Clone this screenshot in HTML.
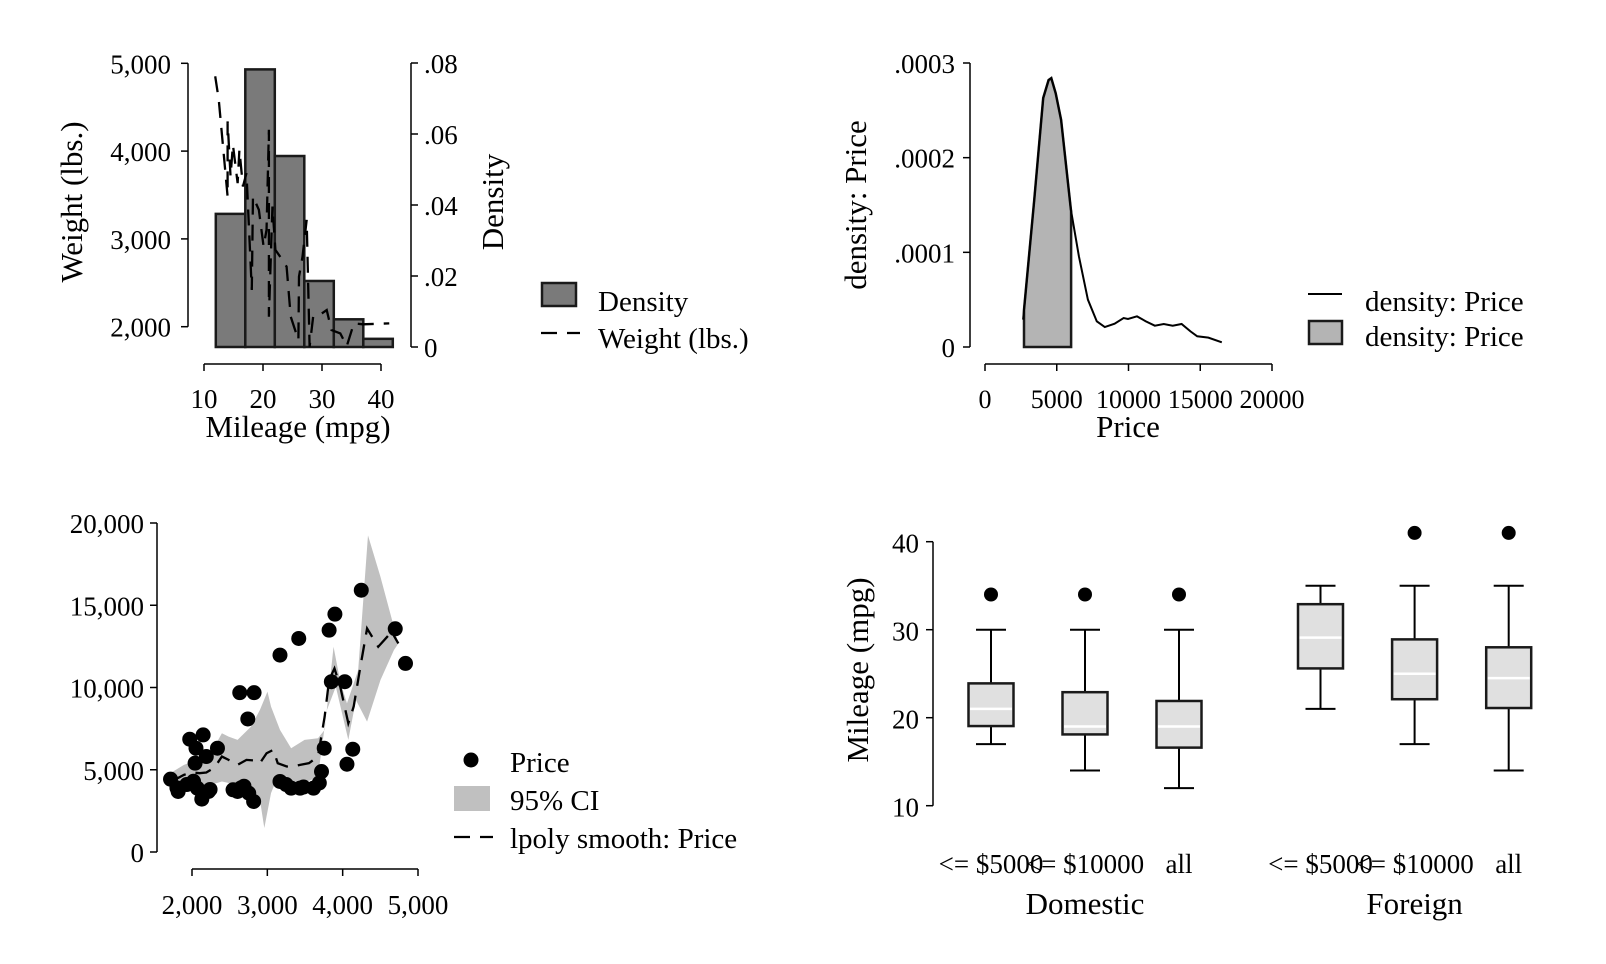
<!DOCTYPE html>
<html><head><meta charset="utf-8">
<style>
html,body{margin:0;padding:0;background:#fff;}
svg{display:block;font-family:"Liberation Serif",serif;}
text{fill:#000;}
</style></head>
<body>
<svg id="chart" width="1606" height="964" viewBox="0 0 1606 964" font-size="27" xmlns="http://www.w3.org/2000/svg">
<rect width="1606" height="964" fill="#fff"/>
<g id="p1"></g>
<g id="p2"></g>
<g id="p3"></g>
<g id="p4"></g>
</svg>
<script>
// ---- Panel 1 data ----
const histBinStarts = [12, 17, 22, 27, 32, 37];
const histBinWidth = 5;
const histDensity = [0.0375, 0.0782, 0.0538, 0.0186, 0.0078, 0.0023];
const weightMpg = [11.9,12.5,14.0,14.0,14.5,14.9,15.7,16.0,16.6,17.2,18.1,18.3,19.3,20.1,20.6,21,21,21.6,22.1,22.9,24,24.7,26,26.1,26.7,27.4,27.9,28.5,29.2,30,30.8,31.6,33.1,34.2,35.4,36.9,41.4];
const weightLbs = [4852,4586,3483,4338,3711,4072,3635,4015,3597,3749,2418,3483,3331,2913,3103,4243,2114,3369,2875,2798,2684,2114,1848,2570,2798,3217,1772,2114,2114,2152,2190,1962,1924,1779,2038,2027,2038];
const p1WeightTicks = [2000,3000,4000,5000];
const p1DensTicks = [0,0.02,0.04,0.06,0.08];
const p1DensLabels = ["0",".02",".04",".06",".08"];
const p1XTicks = [10,20,30,40];
// ---- Panel 2 data ----
const kdPrice = [2655,3435,4056,4432,4620,4927,5303,5986,6544,7171,7791,8348,9031,9659,9965,10592,11212,11833,12456,13080,13700,14320,14788,15568,16502];
const kdDens = [0.0000289,0.000156,0.000263,0.000282,0.000284,0.000268,0.00024,0.000145,0.0000958,0.00005,0.0000271,0.0000211,0.0000246,0.0000306,0.0000296,0.0000324,0.0000271,0.0000225,0.0000243,0.0000225,0.0000243,0.0000165,0.0000113,0.0000099,0.0000049];
const shadeFrom = 2718, shadeTo = 6000;
const p2YTicks = [0,0.0001,0.0002,0.0003];
const p2YLabels = ["0",".0001",".0002",".0003"];
const p2XTicks = [0,5000,10000,15000,20000];
// ---- Panel 3 data ----
const scWeight = [1715,1816,1970,2053,2148,2071,2130,2219,2190,2041,2338,2545,2634,2605,2753,2741,2824,2818,3168,3417,3168,3316,3435,3613,3719,3755,3820,3897,3850,4028,4057,4134,4247,4698,4834,1800,1930,2020,2240,2650,2690,3250,3480,3690];
const scPrice = [4428,3680,6855,6309,7118,3882,3215,3680,5803,5399,6309,3781,9685,3680,3579,8088,9685,3073,11970,12981,4287,3882,3882,3882,4893,6309,13487,14457,10352,10352,5338,6248,15913,13568,11465,3900,4100,4300,3800,3900,4000,4100,3950,4200];
const smW = [1727,1893,2000,2101,2190,2249,2338,2397,2486,2605,2723,2842,2901,2990,3079,3138,3257,3346,3435,3553,3672,3761,3820,3891,3968,4075,4146,4235,4324,4472,4591,4650,4739];
const smP = [4287,4691,4833,4792,4833,4994,5399,5803,5601,5298,5601,5561,5399,6005,6208,5399,5197,5197,5298,5399,5803,8230,10454,11161,10049,7825,8836,11263,13588,12476,13082,13385,12678];
const upW = [1727,1893,2071,2249,2397,2486,2605,2783,2901,3002,3049,3168,3316,3494,3672,3761,3879,3968,4057,4206,4336,4502,4680,4739];
const upP = [4833,5298,5601,6005,7219,7016,6814,7623,8634,9746,8836,7421,6309,6814,6915,7421,12476,10353,9038,11060,19249,16722,13689,12678];
const loW = [1727,1893,2071,2249,2397,2605,2783,2901,2960,3049,3138,3316,3494,3672,3791,3909,4075,4176,4324,4502,4680,4739];
const loP = [4186,4084,4084,4084,4287,4084,3983,3175,1456,3579,4590,4186,4186,4590,8634,10049,6814,9240,7926,10454,12273,12678];
const p3YTicks = [0,5000,10000,15000,20000];
const p3XTicks = [2000,3000,4000,5000];
// ---- Panel 4 data ----
const boxLabels = ["<= $5000","<= $10000","all","<= $5000","<= $10000","all"];
const boxGroups = ["Domestic","Foreign"];
const boxLW = [17,14,12,21,17,14];
const boxQ1 = [19.05,18.1,16.6,25.6,22.1,21.1];
const boxMed = [21,19,19,29.1,25,24.5];
const boxQ3 = [23.9,22.9,21.9,32.9,28.9,28];
const boxUW = [30,30,30,35,35,35];
const boxOut = [34,34,34,null,41,41];
const p4YTicks = [10,20,30,40];

const NS = "http://www.w3.org/2000/svg";
const DASH = "16 10";
const TF = "31", LF = "29";
function mk(parent, tag, attrs, txt){
  const e = document.createElementNS(NS, tag);
  for (const k in attrs) e.setAttribute(k, attrs[k]);
  if (txt !== undefined) e.textContent = txt;
  parent.appendChild(e);
  return e;
}
function lin(d0,d1,r0,r1){ return v => r0 + (v-d0)/(d1-d0)*(r1-r0); }
function fmt(v){ return v.toLocaleString("en-US"); }

// ================= Panel 1 =================
(function(){
  const g = document.getElementById("p1");
  const x = lin(10,40,204,381);
  const yW = lin(2000,5000,326.7,63.3);
  const yD = lin(0,0.08,347,63);
  histBinStarts.forEach((s,i)=>{
    const r = mk(g,"rect",{x:x(s),y:yD(histDensity[i]),width:x(s+histBinWidth)-x(s),height:yD(0)-yD(histDensity[i]),fill:"#7a7a7a",stroke:"#1a1a1a","stroke-width":2.5});
    
    
  });
  const pts = weightMpg.map((m,i)=>x(m)+","+yW(weightLbs[i])).join(" ");
  const pl = mk(g,"polyline",{points:pts,fill:"none",stroke:"#000","stroke-width":2.3,"stroke-dasharray":DASH});
  
  
  mk(g,"line",{x1:188,y1:yW(5000),x2:188,y2:yW(2000),stroke:"#000","stroke-width":1.5,});
  p1WeightTicks.forEach(t=>{
    mk(g,"line",{x1:181,x2:188,y1:yW(t),y2:yW(t),stroke:"#000","stroke-width":1.5});
    const tx = mk(g,"text",{x:171,y:yW(t)+10,"text-anchor":"end"},fmt(t));
    
    
  });
  mk(g,"line",{x1:411,y1:yD(0.08),x2:411,y2:yD(0),stroke:"#000","stroke-width":1.5,});
  p1DensTicks.forEach((t,i)=>{
    mk(g,"line",{x1:411,x2:418,y1:yD(t),y2:yD(t),stroke:"#000","stroke-width":1.5});
    const tx = mk(g,"text",{x:424,y:yD(t)+10,"text-anchor":"start"},p1DensLabels[i]);
    
    
  });
  mk(g,"line",{x1:204,x2:381,y1:364,y2:364,stroke:"#000","stroke-width":1.5,});
  p1XTicks.forEach(t=>{
    mk(g,"line",{x1:x(t),x2:x(t),y1:364,y2:371,stroke:"#000","stroke-width":1.5});
    const tx = mk(g,"text",{x:x(t),y:408,"text-anchor":"middle"},String(t));
    
    
  });
  mk(g,"text",{x:298,y:437,"text-anchor":"middle","font-size":TF,},"Mileage (mpg)");
  mk(g,"text",{transform:"translate(82,202) rotate(-90)","text-anchor":"middle","font-size":TF,},"Weight (lbs.)");
  mk(g,"text",{transform:"translate(503,202) rotate(-90)","text-anchor":"middle","font-size":TF,},"Density");
  mk(g,"rect",{x:542,y:283,width:34,height:23,fill:"#7a7a7a",stroke:"#1a1a1a","stroke-width":2.5,});
  mk(g,"text",{x:598,y:311,"font-size":LF,},"Density");
  mk(g,"line",{x1:541,x2:580,y1:333,y2:333,stroke:"#000","stroke-width":2.3,"stroke-dasharray":DASH,});
  mk(g,"text",{x:598,y:348,"font-size":LF,},"Weight (lbs.)");
})();

// ================= Panel 2 =================
(function(){
  const g = document.getElementById("p2");
  const x = lin(0,20000,985,1272);
  const y = lin(0,0.0003,347,63);
  const inside = [];
  kdPrice.forEach((p,i)=>{ if(p>=shadeFrom && p<=shadeTo) inside.push([p,kdDens[i]]); });
  function dAt(v){ for(let i=0;i<kdPrice.length-1;i++){ if(v>=kdPrice[i]&&v<=kdPrice[i+1]){ const t=(v-kdPrice[i])/(kdPrice[i+1]-kdPrice[i]); return kdDens[i]+t*(kdDens[i+1]-kdDens[i]); } } return kdDens[0]; }
  let sp = [[shadeFrom,0],[shadeFrom,dAt(shadeFrom)]].concat(inside).concat([[shadeTo,dAt(shadeTo)],[shadeTo,0]]);
  const area = mk(g,"polygon",{points:sp.map(p=>x(p[0])+","+y(p[1])).join(" "),fill:"#b4b4b4",stroke:"#1a1a1a","stroke-width":2.5});
  
  
  const ln = mk(g,"polyline",{points:kdPrice.map((p,i)=>x(p)+","+y(kdDens[i])).join(" "),fill:"none",stroke:"#000","stroke-width":2});
  
  
  mk(g,"line",{x1:970,x2:970,y1:y(0.0003),y2:y(0),stroke:"#000","stroke-width":1.5,});
  p2YTicks.forEach((t,i)=>{
    mk(g,"line",{x1:963,x2:970,y1:y(t),y2:y(t),stroke:"#000","stroke-width":1.5});
    const tx = mk(g,"text",{x:955,y:y(t)+10,"text-anchor":"end"},p2YLabels[i]);
    
    
  });
  mk(g,"line",{x1:985,x2:1272,y1:364,y2:364,stroke:"#000","stroke-width":1.5,});
  p2XTicks.forEach(t=>{
    mk(g,"line",{x1:x(t),x2:x(t),y1:364,y2:371,stroke:"#000","stroke-width":1.5});
    const tx = mk(g,"text",{x:x(t),y:408,"text-anchor":"middle","font-size":"26"},String(t));
    
    
  });
  mk(g,"text",{x:1128,y:437,"text-anchor":"middle","font-size":TF,},"Price");
  mk(g,"text",{transform:"translate(866,205) rotate(-90)","text-anchor":"middle","font-size":TF,},"density: Price");
  mk(g,"line",{x1:1308,x2:1342,y1:294,y2:294,stroke:"#000","stroke-width":2,});
  mk(g,"text",{x:1365,y:311,"font-size":LF,},"density: Price");
  mk(g,"rect",{x:1309,y:321,width:33,height:23,fill:"#b4b4b4",stroke:"#1a1a1a","stroke-width":2.5,});
  mk(g,"text",{x:1365,y:346,"font-size":LF,},"density: Price");
})();

// ================= Panel 3 =================
(function(){
  const g = document.getElementById("p3");
  const x = lin(2000,5000,192,418);
  const y = lin(0,20000,852,523);
  const band = upW.map((w,i)=>x(w)+","+y(upP[i])).concat(loW.slice().reverse().map((w,j)=>{const i=loW.length-1-j; return x(w)+","+y(loP[i]);}));
  const b = mk(g,"polygon",{points:band.join(" "),fill:"#c0c0c0",stroke:"none"});
  
  
  scWeight.forEach((w,i)=>{
    const c = mk(g,"circle",{cx:x(w),cy:y(scPrice[i]),r:7.5,fill:"#000"});
    
    
  });
  const sm = mk(g,"polyline",{points:smW.map((w,i)=>x(w)+","+y(smP[i])).join(" "),fill:"none",stroke:"#000","stroke-width":2.3,"stroke-dasharray":DASH});
  
  
  mk(g,"line",{x1:157,x2:157,y1:y(20000),y2:y(0),stroke:"#000","stroke-width":1.5,});
  p3YTicks.forEach(t=>{
    mk(g,"line",{x1:150,x2:157,y1:y(t),y2:y(t),stroke:"#000","stroke-width":1.5});
    const tx = mk(g,"text",{x:144,y:y(t)+10,"text-anchor":"end"},fmt(t));
    
    
  });
  mk(g,"line",{x1:192,x2:418,y1:869,y2:869,stroke:"#000","stroke-width":1.5,});
  p3XTicks.forEach(t=>{
    mk(g,"line",{x1:x(t),x2:x(t),y1:869,y2:876,stroke:"#000","stroke-width":1.5});
    const tx = mk(g,"text",{x:x(t),y:914,"text-anchor":"middle"},fmt(t));
    
    
  });
  mk(g,"circle",{cx:471,cy:760,r:7.5,fill:"#000",});
  mk(g,"text",{x:510,y:772,"font-size":LF,},"Price");
  mk(g,"rect",{x:454,y:786,width:36,height:25,fill:"#c0c0c0",});
  mk(g,"text",{x:510,y:810,"font-size":LF,},"95% CI");
  mk(g,"line",{x1:454,x2:493,y1:837,y2:837,stroke:"#000","stroke-width":2.3,"stroke-dasharray":DASH,});
  mk(g,"text",{x:510,y:848,"font-size":LF,},"lpoly smooth: Price");
})();

// ================= Panel 4 =================
(function(){
  const g = document.getElementById("p4");
  const y = lin(10,40,805.7,541.7);
  const centers = [991,1085,1179,1320.5,1414.6,1508.7];
  const hw = 22.5;
  boxLabels.forEach((lab,i)=>{
    const cx = centers[i];
    const wl = mk(g,"line",{x1:cx,x2:cx,y1:y(boxUW[i]),y2:y(boxLW[i]),stroke:"#000","stroke-width":2});
    
    
    mk(g,"line",{x1:cx-15,x2:cx+15,y1:y(boxUW[i]),y2:y(boxUW[i]),stroke:"#000","stroke-width":2});
    mk(g,"line",{x1:cx-15,x2:cx+15,y1:y(boxLW[i]),y2:y(boxLW[i]),stroke:"#000","stroke-width":2});
    const r = mk(g,"rect",{x:cx-hw,y:y(boxQ3[i]),width:2*hw,height:y(boxQ1[i])-y(boxQ3[i]),fill:"#e0e0e0",stroke:"#1a1a1a","stroke-width":2.5});
    
    
    const m = mk(g,"line",{x1:cx-hw+1.5,x2:cx+hw-1.5,y1:y(boxMed[i]),y2:y(boxMed[i]),stroke:"#fff","stroke-width":2.5});
    
    
    if(boxOut[i]!==null){
      const o = mk(g,"circle",{cx:cx,cy:y(boxOut[i]),r:7,fill:"#000"});
      
      
    }
    const t = mk(g,"text",{x:cx,y:873,"text-anchor":"middle","font-size":"27"},lab);
    
    
  });
  boxGroups.forEach((gr,j)=>{
    const gx = (centers[j*3]+centers[j*3+2])/2;
    const t = mk(g,"text",{x:gx,y:914,"text-anchor":"middle","font-size":TF},gr);
    
    
  });
  mk(g,"line",{x1:933,x2:933,y1:y(40),y2:y(10),stroke:"#000","stroke-width":1.5,});
  p4YTicks.forEach(t=>{
    mk(g,"line",{x1:926,x2:933,y1:y(t),y2:y(t),stroke:"#000","stroke-width":1.5});
    const tx = mk(g,"text",{x:919,y:y(t)+11,"text-anchor":"end"},String(t));
    
    
  });
  mk(g,"text",{transform:"translate(868,670) rotate(-90)","text-anchor":"middle","font-size":TF,},"Mileage (mpg)");
})();
</script>
</body></html>
